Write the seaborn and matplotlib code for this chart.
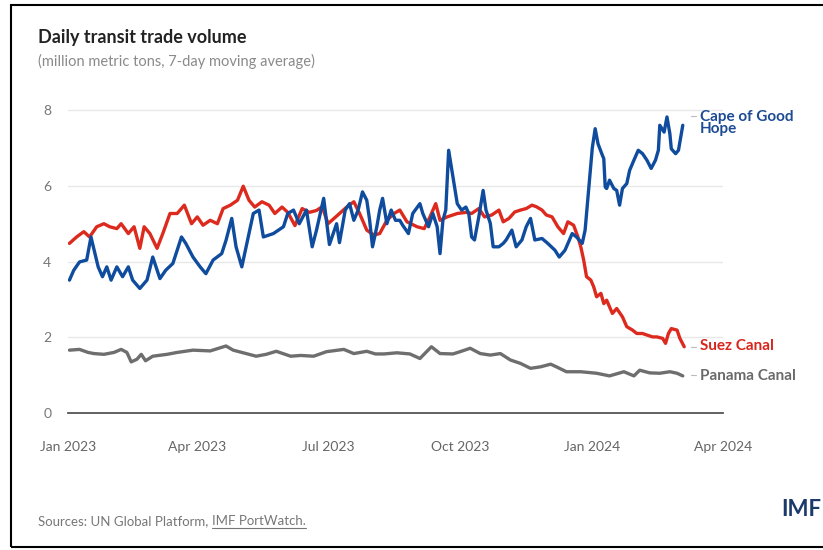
import pandas as pd
import matplotlib
matplotlib.use("Agg")
import matplotlib.pyplot as plt
import matplotlib.dates as mdates
from matplotlib.lines import Line2D
from matplotlib.patches import Rectangle
import seaborn as sns

START = pd.Timestamp("2023-01-01")

# days since 2023-01-01 / million metric tons (7-day moving average)
cape_day = [1, 4, 8, 13, 16, 21, 24, 27, 30, 34, 38, 42, 45, 50, 55, 59, 64, 68, 73, 79,
            82, 87, 92, 96, 101, 107, 110, 114, 117, 121, 124, 129, 133, 136, 143, 150, 153,
            157, 161, 166, 170, 173, 178, 182, 187, 189, 193, 196, 199, 202, 205, 208, 210,
            212, 215, 217, 219, 222, 225, 228, 231, 233, 237, 240, 245, 247, 251, 254, 257,
            259, 261, 263, 265, 268, 271, 274, 277, 279, 281, 283, 286, 289, 291, 294, 296,
            300, 303, 305, 309, 312, 316, 319, 322, 325, 330, 334, 339, 342, 346, 351, 354,
            358, 360, 362, 365, 367, 369, 372, 373, 374, 375, 377, 380, 382, 384, 386, 389,
            391, 394, 397, 400, 403, 406, 409, 411, 412, 415, 417, 419, 420, 423, 425, 428]
cape_val = [3.51, 3.77, 3.99, 4.04, 4.65, 3.86, 3.60, 3.86, 3.51, 3.86, 3.60, 3.86, 3.51, 3.29,
            3.51, 4.12, 3.55, 3.77, 3.95, 4.65, 4.48, 4.12, 3.86, 3.68, 4.04, 4.21, 4.56, 5.14,
            4.39, 3.86, 4.39, 5.27, 5.36, 4.65, 4.74, 4.92, 5.27, 5.36, 5.00, 5.36, 4.39, 4.83,
            5.67, 4.45, 5.00, 4.50, 5.36, 5.53, 5.09, 5.36, 5.84, 5.62, 5.09, 4.39, 4.92, 5.36,
            5.67, 5.00, 5.36, 5.09, 5.09, 4.96, 4.74, 5.27, 5.53, 5.27, 4.92, 5.27, 4.92, 4.21,
            5.09, 5.36, 6.94, 6.24, 5.53, 5.36, 5.44, 5.27, 4.65, 4.57, 5.18, 5.88, 5.36, 5.01,
            4.39, 4.39, 4.48, 4.57, 4.83, 4.39, 4.57, 4.92, 5.14, 4.57, 4.61, 4.48, 4.30, 4.12,
            4.30, 4.74, 4.65, 4.48, 4.83, 5.71, 7.00, 7.51, 7.11, 6.81, 6.72, 5.97, 5.93, 6.15,
            5.93, 5.88, 5.49, 5.93, 6.06, 6.41, 6.68, 6.94, 6.85, 6.68, 6.46, 6.68, 6.94, 7.60,
            7.42, 7.82, 7.38, 6.98, 6.85, 6.94, 7.60]

suez_day = [1, 6, 11, 15, 20, 25, 29, 34, 37, 42, 46, 50, 53, 57, 62, 66, 71, 76, 81, 86,
            90, 94, 99, 104, 108, 113, 118, 122, 126, 130, 135, 140, 144, 149, 153, 158, 163,
            168, 173, 177, 181, 187, 194, 199, 203, 208, 213, 217, 222, 227, 231, 236, 243,
            248, 252, 256, 259, 264, 271, 277, 281, 286, 290, 295, 300, 303, 307, 311, 315,
            319, 323, 326, 330, 333, 337, 341, 345, 348, 352, 355, 357, 359, 361, 364, 366,
            368, 371, 373, 375, 379, 382, 386, 389, 393, 396, 400, 403, 407, 410, 414, 416,
            418, 420, 424, 426, 429]
suez_val = [4.48, 4.65, 4.79, 4.65, 4.92, 5.00, 4.92, 4.87, 5.00, 4.74, 4.92, 4.35, 4.92, 4.74,
            4.35, 4.74, 5.27, 5.27, 5.49, 5.00, 5.18, 4.96, 5.09, 5.00, 5.40, 5.49, 5.62, 5.99,
            5.62, 5.44, 5.58, 5.49, 5.27, 5.44, 5.30, 4.95, 5.40, 5.30, 5.35, 5.45, 5.00, 5.20,
            5.44, 5.58, 5.27, 4.83, 4.70, 4.74, 5.09, 5.27, 5.36, 5.05, 4.92, 4.87, 5.18, 5.53,
            5.09, 5.18, 5.27, 5.30, 5.27, 5.40, 5.18, 5.23, 5.36, 5.05, 5.14, 5.31, 5.36, 5.40,
            5.49, 5.45, 5.36, 5.23, 5.18, 4.92, 4.74, 5.05, 4.96, 4.65, 4.39, 4.04, 3.60, 3.51,
            3.33, 3.07, 3.16, 2.89, 2.98, 2.63, 2.76, 2.54, 2.28, 2.19, 2.10, 2.10, 2.06, 2.01,
            2.01, 1.97, 1.84, 2.10, 2.23, 2.19, 1.97, 1.75]

panama_day = [1, 8, 14, 18, 25, 32, 37, 41, 44, 48, 51, 54, 59, 69, 76, 87, 99, 110, 115,
              124, 131, 138, 145, 155, 162, 171, 180, 192, 199, 208, 214, 220, 229, 238, 245,
              253, 259, 268, 273, 280, 287, 294, 301, 308, 315, 322, 329, 336, 340, 347, 357,
              368, 377, 387, 394, 398, 405, 412, 419, 424, 428]
panama_val = [1.66, 1.68, 1.60, 1.57, 1.55, 1.60, 1.68, 1.60, 1.35, 1.42, 1.55, 1.38, 1.50,
              1.55, 1.60, 1.66, 1.64, 1.77, 1.66, 1.57, 1.50, 1.55, 1.63, 1.50, 1.52, 1.50,
              1.62, 1.68, 1.57, 1.63, 1.56, 1.56, 1.59, 1.56, 1.44, 1.75, 1.57, 1.56, 1.62,
              1.71, 1.57, 1.53, 1.57, 1.40, 1.31, 1.18, 1.22, 1.29, 1.22, 1.09, 1.09, 1.05,
              0.98, 1.09, 0.98, 1.13, 1.06, 1.05, 1.09, 1.05, 0.98]

routes = ["Panama Canal", "Suez Canal", "Cape of Good Hope"]
colors = {"Cape of Good Hope": "#0f4c9e", "Suez Canal": "#dc2b1e", "Panama Canal": "#6e6e6e"}
label_colors = {"Cape of Good Hope": "#1d4c94", "Suez Canal": "#d8261c", "Panama Canal": "#6a6a6a"}


def build_frame():
    parts = []
    for name, days, vals in [("Cape of Good Hope", cape_day, cape_val),
                             ("Suez Canal", suez_day, suez_val),
                             ("Panama Canal", panama_day, panama_val)]:
        parts.append(pd.DataFrame({"date": START + pd.to_timedelta(days, unit="D"),
                                   "value": vals, "route": name}))
    return pd.concat(parts, ignore_index=True)


df = build_frame()

sns.set_theme(style="white")
plt.rcParams["font.family"] = ["Lato", "DejaVu Sans"]

fig = plt.figure(figsize=(8.23, 5.5), dpi=100)
ax = fig.add_axes([68 / 823, 137 / 550, 655 / 823, 318 / 550])

sns.lineplot(data=df, x="date", y="value", hue="route", hue_order=routes, palette=colors,
             estimator=None, sort=False, linewidth=2.4, legend=False, ax=ax)

ax.set_xlim(pd.Timestamp("2023-01-01"), pd.Timestamp("2024-04-01"))
ax.set_ylim(0, 8.4)
ax.set_yticks([0, 2, 4, 6, 8])
ax.xaxis.set_major_locator(mdates.MonthLocator(bymonth=[1, 4, 7, 10]))
ax.xaxis.set_major_formatter(mdates.DateFormatter("%b %Y"))
ax.set_xlabel("")
ax.set_ylabel("")
ax.grid(axis="y", color="#e8e8e8", linewidth=1)
ax.grid(axis="x", visible=False)
for side in ["left", "top", "right"]:
    ax.spines[side].set_visible(False)
ax.spines["bottom"].set_color("#555555")
ax.spines["bottom"].set_linewidth(1.3)
ax.tick_params(axis="x", length=6, width=1.1, color="#555555", direction="out", pad=14,
               labelsize=10, labelcolor="#666666")
ax.tick_params(axis="y", length=0, pad=12, labelsize=10, labelcolor="#777777")

# direct labels on the right
lab_x = pd.Timestamp("2024-03-16")
label_y = {"Cape of Good Hope": 7.66, "Suez Canal": 1.77, "Panama Canal": 0.98}
dash_y = {"Cape of Good Hope": 7.85, "Suez Canal": 1.75, "Panama Canal": 1.0}
for name in ["Cape of Good Hope", "Suez Canal", "Panama Canal"]:
    text = "Cape of Good\nHope" if name == "Cape of Good Hope" else name
    ax.text(lab_x, label_y[name], text, color=label_colors[name], fontsize=11,
            fontweight="bold", ha="left", va="center", linespacing=0.85, clip_on=False)
    ax.plot([pd.Timestamp("2024-03-10"), pd.Timestamp("2024-03-13")],
            [dash_y[name], dash_y[name]], color="#bbbbbb", lw=0.8, clip_on=False)

fig.text(38 / 823, 1 - 38 / 550, "Daily transit trade volume", fontsize=13,
         fontweight="bold", color="#222222", va="center")
fig.text(38 / 823, 1 - 61 / 550, "(million metric tons, 7-day moving average)",
         fontsize=10.5, color="#8a8a8a", va="center")

src = fig.text(38 / 823, 1 - 521 / 550, "Sources: UN Global Platform, ", fontsize=9.5,
               color="#777777", va="center")
fig.canvas.draw()
bb = src.get_window_extent()
link = fig.text(bb.x1 / 823, 1 - 521 / 550, "IMF PortWatch.", fontsize=9.5,
                color="#777777", va="center")
fig.canvas.draw()
lb = link.get_window_extent()
fig.add_artist(Line2D([lb.x0 / 823, lb.x1 / 823], [(lb.y0 - 1) / 550, (lb.y0 - 1) / 550],
                      color="#777777", lw=0.8, transform=fig.transFigure))

fig.text(821 / 823, 1 - 510 / 550, "IMF", fontsize=16, fontweight="bold",
         color="#1b3a6b", va="center", ha="right")

fig.add_artist(Rectangle((11 / 823, 3 / 550), 1.0, 542 / 550, fill=False, ec="black",
                         lw=1.5, transform=fig.transFigure))

fig.savefig("out.png", dpi=100)
